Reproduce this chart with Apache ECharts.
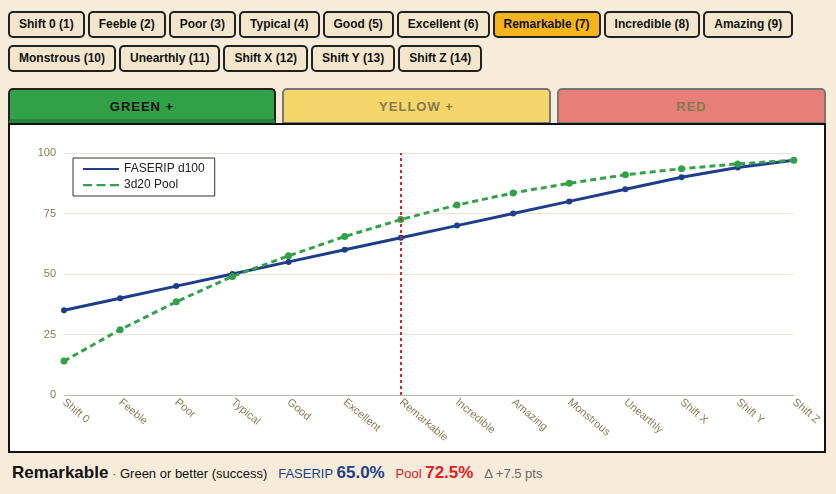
<!DOCTYPE html>
<html>
<head>
<meta charset="utf-8">
<script src="https://cdn.jsdelivr.net/npm/echarts@6/dist/echarts.min.js"></script>
<style>
    body {margin: 0; background: #f6ecd9; font-family: "Liberation Sans", Arial, sans-serif; width: 836px; height: 494px; overflow: hidden; position: relative;}
    .btns {position: absolute; left: 8px; top: 11px; width: 820px;}
    .btn {display: inline-block; box-sizing: border-box; height: 27px; line-height: 23px; padding: 0 9px; margin: 0 3px 7px 0; border: 2px solid #222; border-radius: 5px; background: #f3e6cc; font-size: 12px; font-weight: bold; color: #111;}
    .btn.on {background: #f6b51c;}
    .tab {position: absolute; top: 88px; height: 36px; box-sizing: border-box; border: 2px solid #777; border-radius: 5px 5px 0 0; text-align: center; line-height: 34px; font-size: 13px; font-weight: bold; letter-spacing: 1px; color: #8a7a50;}
    #panel {position: absolute; left: 8px; top: 123px; width: 818px; height: 330px; box-sizing: border-box; border: 2px solid #111; background: #fff;}
    #chart {width: 814px; height: 326px;}
    #foot {position: absolute; left: 12px; top: 463px; font-size: 13px; color: #111; white-space: nowrap;}
</style>
</head>
<body>
<div class="btns" id="btns"></div>
<div class="tab" style="left:8px;width:268px;background:#31a047;border-color:#222;color:#111;border-bottom:5px solid #23843a;">GREEN +</div>
<div class="tab" style="left:282px;width:269px;background:#f5d66b;">YELLOW +</div>
<div class="tab" style="left:557px;width:269px;background:#e57f78;">RED</div>
<div id="panel"><div id="chart"></div></div>
<div id="foot">
    <b style="font-size:17px">Remarkable</b> <span style="color:#555">·</span> Green or better (success)
    &nbsp;&nbsp;<span style="color:#1e3e8a">FASERIP <b style="font-size:17px">65.0%</b></span>
    &nbsp;&nbsp;<span style="color:#e02028">Pool <b style="font-size:17px">72.5%</b></span>
    &nbsp;&nbsp;<span style="color:#666">Δ +7.5 pts</span>
</div>
<script>
var ranks = ['Shift 0', 'Feeble', 'Poor', 'Typical', 'Good', 'Excellent', 'Remarkable', 'Incredible', 'Amazing', 'Monstrous', 'Unearthly', 'Shift X', 'Shift Y', 'Shift Z'];
var faserip = [35, 40, 45, 50, 55, 60, 65, 70, 75, 80, 85, 90, 94, 97];
var pool = [14, 27, 38.5, 49, 57.5, 65.5, 72.5, 78.5, 83.5, 87.5, 91, 93.5, 95.5, 97];
var selected = 'Remarkable';

// rank buttons
var html = '';
ranks.forEach(function (r, i) {
    html += '<span class="btn' + (r == selected ? ' on' : '') + '">' + r + ' (' + (i + 1) + ')</span>';
    if (i == 8) html += '<br>';
});
document.getElementById('btns').innerHTML = html;

var chart = echarts.init(document.getElementById('chart'));
chart.setOption({
    animation: false,
    grid: {left: 54, right: 26, top: 28, bottom: 56},
    legend: {
        left: 63, top: 33, orient: 'vertical', itemGap: 4, itemWidth: 36, itemHeight: 10,
        padding: [5, 10, 5, 10], borderColor: '#333', borderWidth: 1, backgroundColor: '#fff',
        textStyle: {fontSize: 12, color: '#222'},
        data: [{name: 'FASERIP d100', icon: 'path://M0,4h36v2h-36z'}, {name: '3d20 Pool', icon: 'path://M0,4h8v2h-8zM12,4h8v2h-8zM24,4h8v2h-8z'}]
    },
    xAxis: {
        type: 'category', data: ranks, boundaryGap: false,
        axisLine: {lineStyle: {color: '#bbb'}}, axisTick: {show: false},
        axisLabel: {rotate: -40, color: '#8b7a55', fontSize: 11, interval: 0, margin: 6}
    },
    yAxis: {
        type: 'value', min: 0, max: 100, interval: 25,
        axisLabel: {color: '#8b7a55', fontSize: 11},
        splitLine: {lineStyle: {color: '#ece4d2'}}
    },
    series: [{
        name: 'FASERIP d100', type: 'line', data: faserip, color: '#1e3e8a',
        symbol: 'circle', symbolSize: 6, lineStyle: {width: 3},
        markLine: {
            silent: true, symbol: 'none', label: {show: false},
            lineStyle: {color: '#e02028', type: [3, 3], width: 2},
            data: [{xAxis: selected}]
        }
    }, {
        name: '3d20 Pool', type: 'line', data: pool, color: '#33a04a',
        symbol: 'circle', symbolSize: 7, lineStyle: {width: 3, type: [6, 4]}
    }]
});
</script>
</body>
</html>
